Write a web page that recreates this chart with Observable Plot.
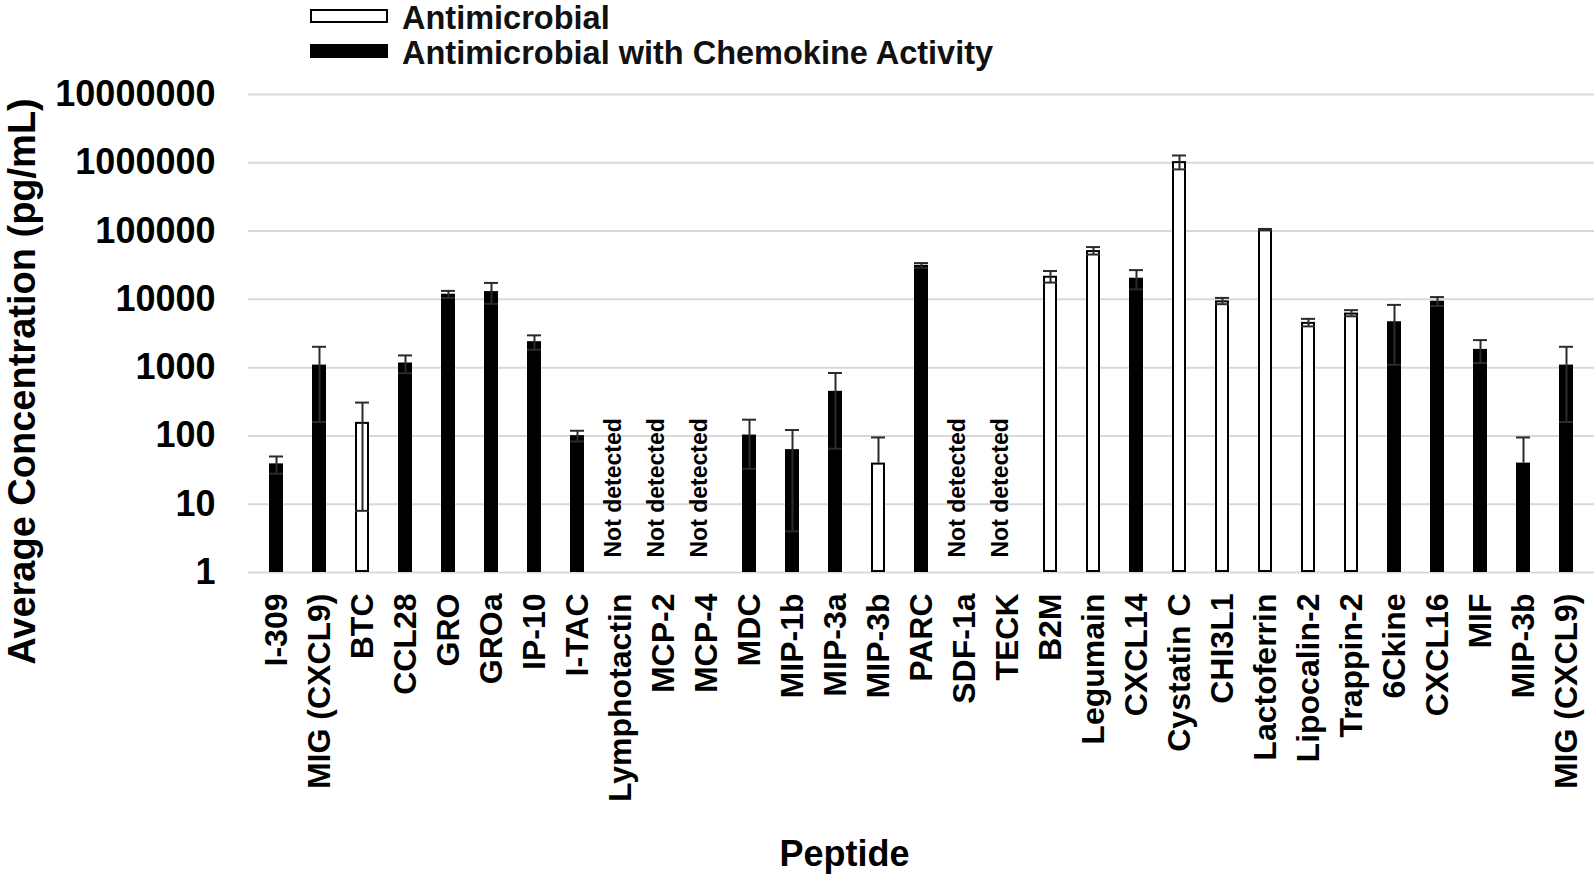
<!DOCTYPE html>
<html>
<head>
<meta charset="utf-8">
<script src="https://cdn.jsdelivr.net/npm/d3@7"></script>
<script src="https://cdn.jsdelivr.net/npm/@observablehq/plot@0.6"></script>
<style>
  html, body { margin: 0; padding: 0; background: #fff; }
  #wrap { position: relative; width: 1594px; height: 874px; font-family: "Liberation Sans", Arial, sans-serif; }
  #legend { position: absolute; left: 0; top: 0; width: 1594px; height: 72px; }
  .lg-box { position: absolute; left: 310px; width: 74px; height: 10px; border: 2px solid #000; box-sizing: content-box; }
  .lg-text { position: absolute; left: 402px; font-size: 32.5px; font-weight: bold; color: #111; line-height: 34px; white-space: nowrap; }
  #chart { position: absolute; left: 0; top: 0; }
</style>
</head>
<body>
<div id="wrap">
  <div id="chart"></div>
  <div id="legend">
    <div class="lg-box" style="top:9px;background:#fff"></div>
    <div class="lg-text" style="top:1px">Antimicrobial</div>
    <div class="lg-box" style="top:44px;background:#000"></div>
    <div class="lg-text" style="top:36px">Antimicrobial with Chemokine Activity</div>
  </div>
</div>
<script>
const peptides = ["I-309","MIG (CXCL9)","BTC","CCL28","GRO","GROa","IP-10","I-TAC","Lymphotactin","MCP-2","MCP-4","MDC","MIP-1b","MIP-3a","MIP-3b","PARC","SDF-1a","TECK","B2M","Legumain","CXCL14","Cystatin C","CHI3L1","Lactoferrin","Lipocalin-2","Trappin-2","6Ckine","CXCL16","MIF","MIP-3b","MIG (CXCL9)"];
// "C" = Antimicrobial with Chemokine Activity (black), "A" = Antimicrobial (white)
const groups = ["C","C","A","C","C","C","C","C","C","C","C","C","C","C","A","C","C","C","A","A","C","A","A","A","A","A","C","C","C","C","C"];
const means = [39, 1090, 158, 1170, 11900, 13000, 2400, 101, null, null, null, 103, 63, 450, 40, 31500, null, null, 21800, 51800, 20400, 1040000, 9500, 105000, 4600, 6300, 4700, 9400, 1850, 40, 1090];
const errors = [11, 930, 150, 340, 1400, 4400, 570, 18, null, null, null, 70, 59, 385, 55, 2500, null, null, 4200, 6500, 6400, 240000, 1000, 2500, 580, 650, 3600, 1400, 680, 55, 930];
const yTicks = [1, 10, 100, 1000, 10000, 100000, 1000000, 10000000];

const data = peptides.map((name, i) => ({
  i, name, group: groups[i], mean: means[i], err: errors[i],
  hi: means[i] == null ? null : means[i] + errors[i],
  lo: means[i] == null ? null : means[i] - errors[i]
}));
const detected = data.filter(d => d.mean != null);
const notDetected = data.filter(d => d.mean == null);
const withLower = detected.filter(d => d.lo > 0);

const FONT = "Liberation Sans, Arial, sans-serif";

const chart = Plot.plot({
  width: 1594,
  height: 874,
  marginTop: 94,
  marginBottom: 302,
  marginLeft: 248,
  marginRight: 0,
  style: { fontFamily: FONT, fontWeight: "bold", color: "#000", background: "#fff" },
  x: { type: "band", domain: d3.range(peptides.length), paddingInner: 0.677, paddingOuter: 0.3385, label: null },
  y: { type: "log", domain: [1, 1e7], label: null },
  marks: [
    Plot.gridY(yTicks, { stroke: "#d9d9d9", strokeOpacity: 1, strokeWidth: 2 }),
    Plot.axisY(yTicks, { tickSize: 0, tickPadding: 33, fontSize: 36, fontWeight: "bold", tickFormat: d => String(d), label: null }),
    Plot.axisX({ tickSize: 0, tickPadding: 21, tickRotate: -90, fontSize: 32, fontWeight: "bold", tickFormat: i => peptides[i], label: null }),
    Plot.barY(detected, { x: "i", y1: 1, y2: "mean", fill: d => d.group === "C" ? "#000" : "#fff", stroke: "#000", strokeWidth: 2, inset: 1 }),
    Plot.ruleX(detected, { x: "i", y1: "mean", y2: "hi", stroke: "#2a2a2a", strokeWidth: 2 }),
    Plot.ruleX(withLower, { x: "i", y1: "lo", y2: "mean", stroke: "#2a2a2a", strokeWidth: 2 }),
    Plot.tickY(detected, { x: "i", y: "hi", stroke: "#2a2a2a", strokeWidth: 2 }),
    Plot.tickY(withLower, { x: "i", y: "lo", stroke: "#2a2a2a", strokeWidth: 2 }),
    Plot.text(notDetected, { x: "i", text: () => "Not detected", frameAnchor: "bottom", dy: -15, rotate: -90, textAnchor: "start", fontSize: 23, fontWeight: "bold", fill: "#000" }),
    Plot.text(["Average Concentration (pg/mL)"], { frameAnchor: "left", dx: -226, dy: 48, rotate: -90, textAnchor: "middle", fontSize: 38, fontWeight: "bold", fill: "#000" }),
    Plot.text(["Peptide"], { frameAnchor: "bottom", dx: -77, dy: 282, textAnchor: "middle", lineAnchor: "middle", fontSize: 36, fontWeight: "bold", fill: "#000" })
  ]
});
document.getElementById("chart").appendChild(chart);
</script>
</body>
</html>
